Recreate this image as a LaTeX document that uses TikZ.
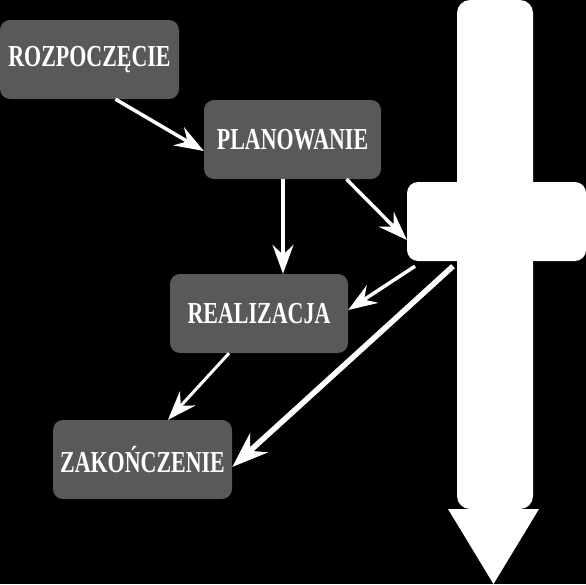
\documentclass[tikz,border=0pt]{standalone}
\usepackage{fontspec}
\setmainfont{Liberation Serif}[BoldFont={Liberation Serif Bold}]
\newfontfamily\labelfont{Liberation Serif Bold}
\usetikzlibrary{arrows.meta,calc}
\definecolor{boxgray}{RGB}{89,89,89}
\newcommand\lbl[1]{\scalebox{0.72}[1]{\labelfont\fontsize{30.5}{30.5}\selectfont #1}}
\tikzset{
  stagebox/.style={fill=boxgray, rounded corners=10pt, minimum width=179pt, minimum height=79pt, inner sep=0pt, text=white, draw=none},
  whitebar/.style={fill=white, draw=none, rounded corners=11pt, inner sep=0pt},
  conn/.style={draw=white, line width=3.5pt, -{Stealth[length=29pt,width=21pt,inset=10pt]}},
  thickconn/.style={draw=white, line width=5.5pt, -{Stealth[length=36pt,width=26pt,inset=12pt]}}
}
\begin{document}
\begin{tikzpicture}[x=1pt,y=-1pt]
\fill[black] (0,0) rectangle (586,584);
\useasboundingbox (0,0) rectangle (586,584);
% big arrow
\node[whitebar, minimum width=76pt, minimum height=509pt, rounded corners=13pt] (shaft) at (495,254.5) {};
\fill[white] (448,509) -- (539,509) -- (493.5,584) -- cycle;
\node[whitebar, minimum width=179pt, minimum height=79pt] (cross) at (496.5,221.5) {};
% stages
\node[stagebox] (roz) at (89.5,59.5) {\lbl{ROZPOCZĘCIE}};
\node[stagebox, minimum width=177pt] (pla) at (292.5,139.5) {\lbl{PLANOWANIE}};
\node[stagebox, minimum width=178pt] (rea) at (259,313.5) {\lbl{REALIZACJA}};
\node[stagebox] (zak) at (142.5,459.5) {\lbl{ZAKOŃCZENIE}};
% connectors
\draw[conn] ([xshift=26pt]roz.south) -- ([yshift=-11.5pt]pla.west);
\draw[conn] ([xshift=-9.5pt]pla.south) -- ([xshift=-9.5pt]pla.south |- rea.north);
\draw[conn] ([xshift=54pt]pla.south) -- ([yshift=-18.5pt]cross.west);
\draw[conn] ([xshift=-81.5pt,yshift=-5pt]cross.south) -- ([yshift=3.5pt]rea.east);
\draw[conn, line width=3pt] ([xshift=-30pt]rea.south) -- ([xshift=25.5pt]zak.north);
\draw[thickconn] ([xshift=-43.5pt,yshift=-5pt]cross.south) -- ([yshift=-7.5pt]zak.east);
\end{tikzpicture}
\end{document}
